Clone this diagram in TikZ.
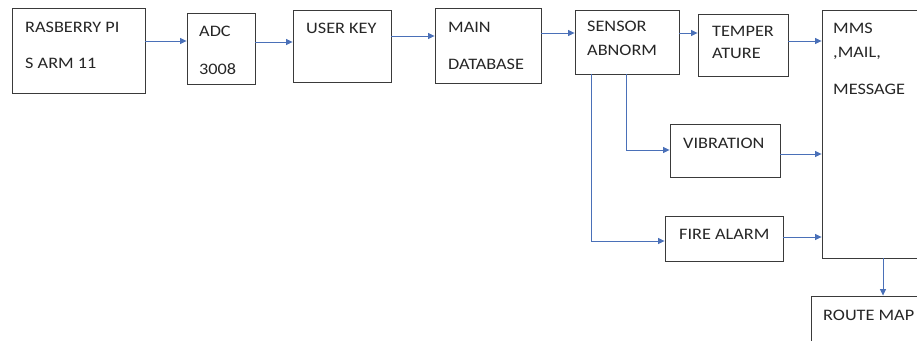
\documentclass[tikz,border=0pt]{standalone}
\usepackage{fontspec}
\setmainfont{Carlito}[FakeStretch=1.14]
\usetikzlibrary{arrows.meta}
\definecolor{boxline}{HTML}{3A3A3A}
\definecolor{arrblue}{HTML}{4A70B8}
\tikzset{
  box/.style={draw=boxline, line width=0.9pt, inner sep=0pt, fill=white},
  lbl/.style={anchor=base west, inner sep=0pt, text=black!85, font=\fontsize{16}{19}\selectfont},
  arr/.style={draw=arrblue, line width=0.8pt, -{Triangle[length=6.5pt,width=6pt]}},
}
\begin{document}
\begin{tikzpicture}[x=1pt,y=-1pt]
\useasboundingbox (0,0) rectangle (917,340);
\clip (0,0) rectangle (917,340);
% boxes
\node[box, minimum width=133pt, minimum height=85pt] (rpi) at (78.5,50.5) {};
\node[box, minimum width=68pt, minimum height=71pt] (adc) at (221,48.5) {};
\node[box, minimum width=98pt, minimum height=72pt] (ukey) at (342,46) {};
\node[box, minimum width=106pt, minimum height=75pt] (mdb) at (488,45.5) {};
\node[box, minimum width=104pt, minimum height=64pt] (sens) at (627,42) {};
\node[box, minimum width=90pt, minimum height=62pt] (temp) at (743,45) {};
\node[box, minimum width=130pt, minimum height=248pt] (mms) at (887,134) {};
\node[box, minimum width=110pt, minimum height=53pt] (vib) at (725,150.5) {};
\node[box, minimum width=118pt, minimum height=45pt] (fire) at (724,238.5) {};
\node[box, minimum width=130pt, minimum height=70pt] (route) at (876,331) {};
% texts
\node[lbl] (t1) at (25,32) {RASBERRY PI};
\node[lbl] (t2) at (25,68) {S ARM 11};
\node[lbl] (t3) at (199,36) {ADC};
\node[lbl] (t4) at (199,74) {3008};
\node[lbl] (t5) at (306,33) {USER KEY};
\node[lbl] (t6) at (448,32) {MAIN};
\node[lbl] (t7) at (448,69) {DATABASE};
\node[lbl] (t8) at (587,31) {SENSOR};
\node[lbl] (t9) at (587,55) {ABNORM};
\node[lbl] (t10) at (712,36) {TEMPER};
\node[lbl] (t11) at (712,58) {ATURE};
\node[lbl] (t12) at (833,33) {MMS};
\node[lbl] (t13) at (833,57) {,MAIL,};
\node[lbl] (t14) at (833,94) {MESSAGE};
\node[lbl] (t15) at (683,148) {VIBRATION};
\node[lbl] (t16) at (679,239) {FIRE ALARM};
\node[lbl] (t17) at (823,320) {ROUTE MAP};
% connectors
\draw[arr] (rpi.east |- 0,41) -- (adc.west |- 0,41);
\draw[arr] (adc.east |- 0,42) -- (ukey.west |- 0,42);
\draw[arr] (ukey.east |- 0,36) -- (mdb.west |- 0,36);
\draw[arr] (mdb.east |- 0,33) -- (sens.west |- 0,33);
\draw[arr] (sens.east |- 0,33) -- (temp.west |- 0,33);
\draw[arr] (temp.east |- 0,41) -- (mms.west |- 0,41);
\draw[arr] (sens.south -| 626,0) |- (vib.west |- 0,150);
\draw[arr] (sens.south -| 591,0) |- (fire.west |- 0,241);
\draw[arr] (vib.east |- 0,154) -- (mms.west |- 0,154);
\draw[arr] (fire.east |- 0,237) -- (mms.west |- 0,237);
\draw[arr] (mms.south -| 883,0) -- (route.north -| 883,0);
\end{tikzpicture}
\end{document}
